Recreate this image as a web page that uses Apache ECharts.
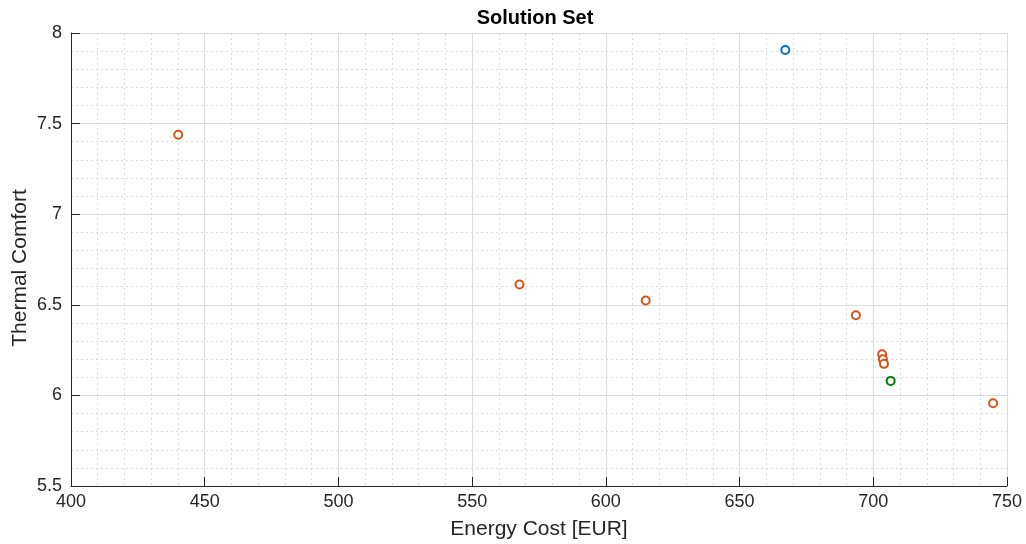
<!DOCTYPE html>
<html>
<head>
<meta charset="utf-8">
<script src="https://cdn.jsdelivr.net/npm/echarts@6/dist/echarts.min.js"></script>
<style>html,body{margin:0;padding:0;background:#fff}#c{width:1026px;height:544px}</style>
</head>
<body>
<div id="c"></div>
<script>
const xTicks = [400, 450, 500, 550, 600, 650, 700, 750];
const yTicks = [5.5, 6, 6.5, 7, 7.5, 8];
const bluePoints = [[667.1, 7.906]];
const orangePoints = [[440.1, 7.438], [567.7, 6.612], [614.9, 6.524], [693.5, 6.442], [703.3, 6.227], [703.6, 6.200], [704.0, 6.174], [744.8, 5.957]];
const greenPoints = [[706.5, 6.080]];

const chart = echarts.init(document.getElementById('c'), null, {renderer: 'canvas'});
const font = 'Liberation Sans, Arial, sans-serif';
const axisCommon = {
  axisLine: {show: true, lineStyle: {color: '#262626', width: 1}},
  axisTick: {show: true, inside: true, length: 9, lineStyle: {color: '#262626'}},
  minorTick: {show: false, splitNumber: 5},
  splitLine: {show: true, lineStyle: {color: '#dcdcdc', width: 1}},
  minorSplitLine: {show: true, lineStyle: {color: '#dcdcdc', width: 1, type: [2, 3]}},
  axisLabel: {color: '#262626', fontSize: 18, fontFamily: font},
  nameTextStyle: {color: '#262626', fontSize: 21, fontFamily: font}
};
const mk = (data, color) => ({
  type: 'scatter', data: data, symbol: 'emptyCircle', symbolSize: 8,
  itemStyle: {color: color, borderColor: color, borderWidth: 1.6, opacity: 1},
  emphasis: {disabled: true}
});
chart.setOption({
  animation: false,
  title: {text: 'Solution Set', left: 530, top: 3, textAlign: 'center',
    textStyle: {fontSize: 20, fontWeight: 'bold', color: '#000', fontFamily: font}},
  grid: {left: 71, top: 33, right: 19, bottom: 58, outerBoundsMode: 'none', containLabel: false},
  xAxis: Object.assign({}, axisCommon, {
    type: 'value', min: 400, max: 750, interval: 50,
    name: 'Energy Cost [EUR]', nameLocation: 'middle', nameGap: 33,
    axisLabel: Object.assign({}, axisCommon.axisLabel, {margin: 7, formatter: v => xTicks.includes(v) ? String(v) : ''})
  }),
  yAxis: Object.assign({}, axisCommon, {
    type: 'value', min: 5.5, max: 8, interval: 0.5,
    axisLabel: Object.assign({}, axisCommon.axisLabel, {margin: 9, formatter: v => yTicks.includes(v) ? String(v) : ''})
  }),
  graphic: [{
    type: 'text', x: 20, y: 268, rotation: Math.PI / 2,
    style: {text: 'Thermal Comfort', fill: '#262626', font: '21px ' + font, align: 'center', verticalAlign: 'middle'}
  }],
  series: [mk(bluePoints, '#0072BD'), mk(orangePoints, '#D95319'), mk(greenPoints, '#008000')]
});
</script>
</body>
</html>
